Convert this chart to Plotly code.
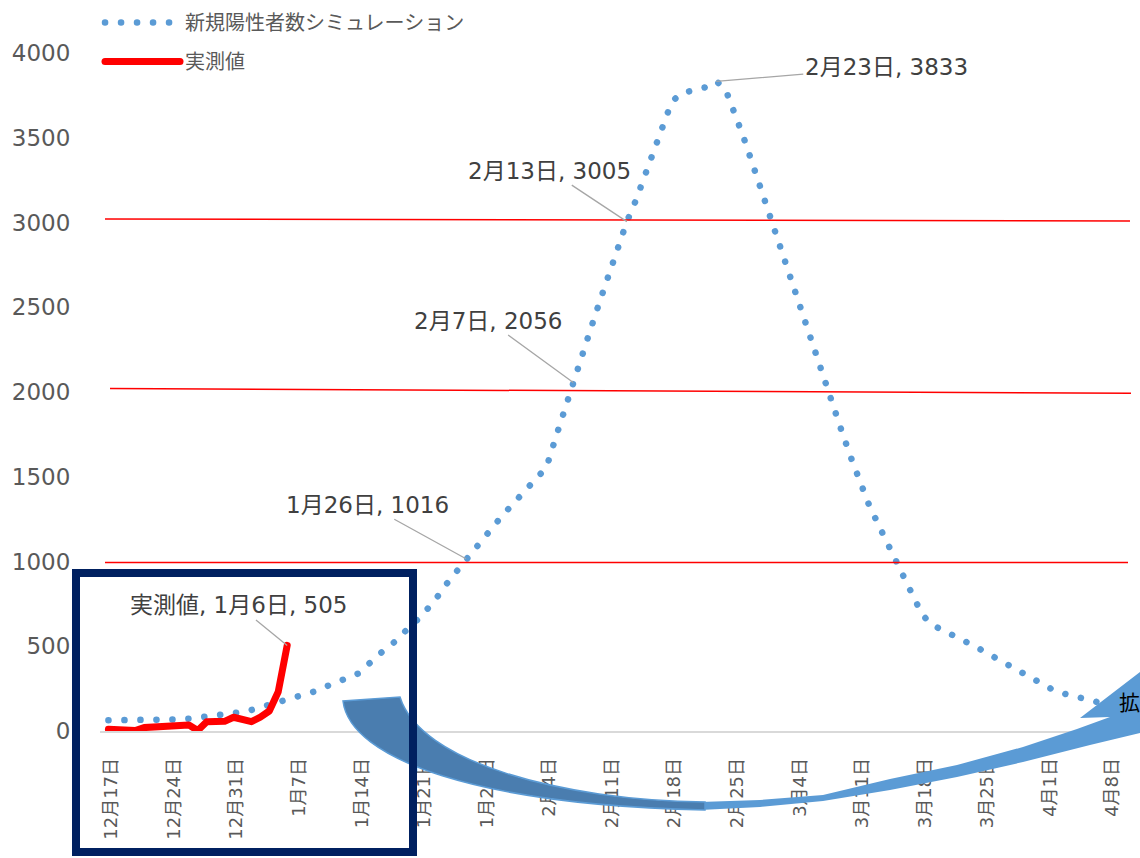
import pandas as pd
import plotly.graph_objects as go

# ---------------- data ----------------
sim_start = "2020-12-17"
sim_values = [
    63, 63, 63, 63, 63, 63, 64, 65, 69, 73,          # 12/17 - 12/26
    78, 84, 88, 95, 101, 112, 124, 140, 155, 168,    # 12/27 - 1/5
    180, 195, 213, 232, 255, 275, 295, 318, 340, 390, # 1/6 - 1/15
    440, 485, 525, 580, 630, 675, 733, 805, 880, 945, # 1/16 - 1/25
    1016, 1085, 1150, 1210, 1267, 1325, 1385, 1437, 1497, 1555,  # 1/26 - 2/4
    1725, 1895, 2056, 2220, 2380, 2540, 2695, 2850, 3005, 3130,  # 2/5 - 2/14
    3270, 3415, 3560, 3710, 3760, 3778, 3788, 3800, 3833, 3790,  # 2/15 - 2/24
    3660, 3510, 3355, 3195, 3035, 2870, 2707, 2545, 2388, 2237,  # 2/25 - 3/6
    2080, 1930, 1774, 1622, 1470, 1345, 1232, 1125, 1010, 900,   # 3/7 - 3/16
    790, 690, 630, 605, 580, 554, 527, 498, 468, 438,            # 3/17 - 3/26
    405, 375, 346, 315, 285, 255, 233, 219, 204, 190,            # 3/27 - 4/5
    176, 166, 156,                                               # 4/6 - 4/8
]
actual_start = "2020-12-17"
actual_values = [10, 10, 8, 3, 20, 22, 22, 22, 25, 35,
                 3, 55, 56, 57, 81, 70, 55, 82, 118, 232, 505]

tick_dates = ["2020-12-17", "2020-12-24", "2020-12-31", "2021-01-07", "2021-01-14",
              "2021-01-21", "2021-01-28", "2021-02-04", "2021-02-11", "2021-02-18",
              "2021-02-25", "2021-03-04", "2021-03-11", "2021-03-18", "2021-03-25",
              "2021-04-01", "2021-04-08"]
tick_labels = ["12月17日", "12月24日", "12月31日", "1月7日", "1月14日", "1月21日", "1月28日",
               "2月4日", "2月11日", "2月18日", "2月25日", "3月4日", "3月11日", "3月18日",
               "3月25日", "4月1日", "4月8日"]
y_ticks = [0, 500, 1000, 1500, 2000, 2500, 3000, 3500, 4000]

label_dates = ["2021-02-23", "2021-02-13", "2021-02-07", "2021-01-26", "2021-01-06"]
label_values = [3833, 3005, 2056, 1016, 505]
label_texts = ["2月23日, 3833", "2月13日, 3005", "2月7日, 2056", "1月26日, 1016", "実測値, 1月6日, 505"]
label_offsets = [(170, -14), (-77, -51), (-85, -62), (-98, -54), (-49, -40)]

sim_name = "新規陽性者数シミュレーション"
actual_name = "実測値"
zoom_text = "拡"

# ---------------- layout constants ----------------
W, H = 1140, 858
ML, MR, MT, MB = 100, 0, 53, 127
PW = W - ML - MR
PH = H - MT - MB
BOTTOM = MT + PH
FONT = "DejaVu Sans, Noto Sans CJK JP, sans-serif"


def px2paper(x, y):
    return (x - ML) / PW, (BOTTOM - y) / PH


def fmt(p):
    q = px2paper(*p)
    return "%.5f %.5f" % q


def poly(points):
    s = "M " + fmt(points[0]) + " "
    for p in points[1:]:
        s += "L " + fmt(p) + " "
    return s + "Z"


sim_dates = pd.date_range(sim_start, periods=len(sim_values), freq="D")
actual_dates = pd.date_range(actual_start, periods=len(actual_values), freq="D")

fig = go.Figure()
fig.add_trace(go.Scatter(
    x=sim_dates, y=sim_values, mode="lines", name=sim_name, legendgroup="a",
    line=dict(color="#5B9BD5", width=6.5, dash="0.1px,15.9px"),
))
fig.add_trace(go.Scatter(
    x=actual_dates, y=actual_values, mode="lines", name=actual_name, legendgroup="b",
    line=dict(color="#FF0000", width=7),
))

t0 = pd.Timestamp(sim_start)
x_range = [str(t0 - pd.Timedelta(days=0.94)), str(t0 + pd.Timedelta(days=115.4))]

shapes = []
# red reference lines
for (xa, ya, xb, yb) in [(105, 219, 1130, 221), (110, 388.5, 1131, 393.3), (105, 562.5, 1128, 562.5)]:
    p0 = px2paper(xa, ya)
    p1 = px2paper(xb, yb)
    shapes.append(dict(type="line", xref="paper", yref="paper", x0=p0[0], y0=p0[1],
                       x1=p1[0], y1=p1[1], line=dict(color="#FF0000", width=1.5)))

# curved arrow: right (light) piece
right_piece = [(700, 810), (760, 807), (823, 801), (890, 790), (957, 777), (1023, 762),
               (1090, 745), (1140, 733), (1180, 722), (1215, 640), (1168, 651), (1140, 672),
               (1080, 718), (1110, 717), (1077, 729), (1023, 747), (957, 765), (890, 779),
               (823, 795), (760, 800), (700, 802)]
shapes.append(dict(type="path", xref="paper", yref="paper", path=poly(right_piece),
                   fillcolor="#5B9BD5", line=dict(width=0), layer="above"))
# left (dark) piece with smooth cubic edges
left_path = ("M " + fmt((343, 701)) +
             " C " + fmt((350, 760)) + ", " + fmt((480, 805)) + ", " + fmt((705, 810)) +
             " L " + fmt((705, 802)) +
             " C " + fmt((560, 800)) + ", " + fmt((420, 762)) + ", " + fmt((400, 697)) +
             " Z")
shapes.append(dict(type="path", xref="paper", yref="paper", path=left_path,
                   fillcolor="#4A7DAF", line=dict(color="#5B9BD5", width=1.5), layer="above"))

# navy frame
b0 = px2paper(76, 852)
b1 = px2paper(413, 573)
shapes.append(dict(type="rect", xref="paper", yref="paper", x0=b0[0], y0=b0[1], x1=b1[0], y1=b1[1],
                   line=dict(color="#002060", width=8), fillcolor="rgba(0,0,0,0)", layer="above"))

annotations = []
for d, v, t, (ax, ay) in zip(label_dates, label_values, label_texts, label_offsets):
    annotations.append(dict(
        x=d, y=v, xref="x", yref="y", text=t, showarrow=True, arrowhead=0,
        arrowwidth=1.3, arrowcolor="#A6A6A6", ax=ax, ay=ay, standoff=0,
        font=dict(size=23, color="#404040", family=FONT),
    ))
kx, ky = px2paper(1117, 703)
annotations.append(dict(x=kx, y=ky, xref="paper", yref="paper", text=zoom_text, showarrow=False,
                        xanchor="left", yanchor="middle",
                        font=dict(size=21, color="#000000", family=FONT)))

fig.update_layout(
    width=W, height=H, autosize=False,
    margin=dict(l=ML, r=MR, t=MT, b=MB, pad=0),
    paper_bgcolor="white", plot_bgcolor="white",
    font=dict(family=FONT, color="#595959"),
    showlegend=True,
    legend=dict(x=0, xanchor="left", y=(BOTTOM - 3) / PH, yanchor="top",
                bgcolor="rgba(0,0,0,0)", font=dict(size=20, color="#595959", family=FONT),
                itemwidth=75, tracegroupgap=10, traceorder="grouped"),
    xaxis=dict(type="date", range=x_range, tickvals=tick_dates, ticktext=tick_labels,
               tickangle=-90, tickfont=dict(size=18, color="#595959", family=FONT),
               showgrid=False, zeroline=False, showline=True, linecolor="#D9D9D9", linewidth=1.5,
               ticks="outside", ticklen=18, tickcolor="rgba(0,0,0,0)", ticklabelshift=3),
    yaxis=dict(range=[0, 4000], tickvals=y_ticks, tickfont=dict(size=23, color="#595959", family=FONT),
               showgrid=False, zeroline=False, showline=False,
               ticks="outside", ticklen=24, tickcolor="rgba(0,0,0,0)"),
    shapes=shapes,
    annotations=annotations,
)

post = """
document.body.style.margin='0';
document.body.style.overflow='hidden';
var gd = document.getElementById('{plot_id}');
function roundCaps(){
  gd.querySelectorAll('path.js-line').forEach(function(p){
    p.style.strokeLinecap='round'; p.style.strokeLinejoin='round';
  });
}
roundCaps();
if (gd.on) { gd.on('plotly_afterplot', roundCaps); }
"""
fig.write_html("out.html", post_script=post, config={"displayModeBar": False})
